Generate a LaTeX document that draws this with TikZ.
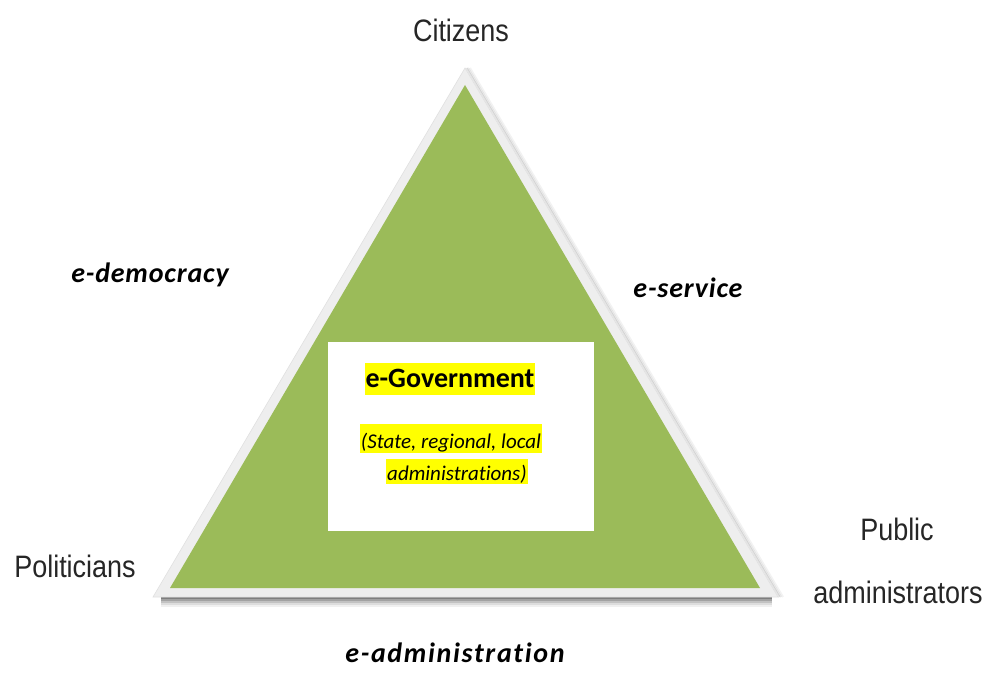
\documentclass[tikz,border=0pt]{standalone}
\usepackage{fontspec}
\usetikzlibrary{calc}
\setmainfont{Liberation Sans}
\newfontfamily\namefont[FakeStretch=0.87]{Liberation Sans}
\newfontfamily\labelfont[LetterSpace=3,Ligatures=NoCommon]{Carlito}
\newfontfamily\govfont[Ligatures=NoCommon]{Carlito}
\definecolor{leaf}{HTML}{9BBB59}
\definecolor{rim}{HTML}{EEEEEE}
\definecolor{hilite}{HTML}{FFFF00}
\tikzset{
  actor/.style={anchor=base, inner sep=0pt, font=\namefont\fontsize{31}{36}\selectfont, text=black!85},
  channel/.style={anchor=base, inner sep=0pt, font=\labelfont\bfseries\itshape\fontsize{28}{32}\selectfont},
  marked/.style={anchor=base, inner xsep=1pt, inner ysep=0pt, fill=hilite},
}
\begin{document}
\begin{tikzpicture}[x=1pt, y=-1pt]
\useasboundingbox (0,0) rectangle (989,674);
\fill[white] (0,0) rectangle (989,674);

% outer corners of the rim and inner corners of the green face
\coordinate (top)  at (465,68);
\coordinate (bl)   at (153,597);
\coordinate (br)   at (778,597);
\coordinate (itop) at (465,85);
\coordinate (ibl)  at (170,588);
\coordinate (ibr)  at (760,588);

% soft shadow under the base and along the right side
\foreach \d/\o in {10/0.06, 8/0.08, 6/0.12, 4/0.16, 2/0.22}{
  \fill[black, opacity=\o] ($(bl)+(8,-2)$) -- ($(br)+(-6,-2)$) -- ($(br)+(-6,\d)$) -- ($(bl)+(8,\d)$) -- cycle;
}
\foreach \d/\o in {5/0.05, 3/0.08, 1.5/0.1}{
  \draw[black, opacity=\o, line width=2pt] ($(top)+(\d,0)$) -- ($(br)+(\d,0)$);
}

% rim and green face
\fill[rim] (top) -- (br) -- (bl) -- cycle;
\draw[black!12, line width=0.6pt] (top) -- (br) -- (bl) -- cycle;
\fill[leaf] (itop) -- (ibr) -- (ibl) -- cycle;

% central panel
\node[fill=white, minimum width=266pt, minimum height=189pt, inner sep=0pt] (panel) at (461,436.5) {};

\node[marked, text height=24pt, text depth=8pt, font=\govfont\bfseries\fontsize{28}{32}\selectfont] (gov) at (450,387) {e-Government};
\node[marked, text height=24pt, text depth=5pt, font=\govfont\itshape\fontsize{21}{24}\selectfont] (scope1) at (451,448) {(State, regional, local};
\node[marked, text height=21pt, text depth=4pt, font=\govfont\itshape\fontsize{21}{24}\selectfont] (scope2) at (457,480) {administrations)};

% actors at the corners
\node[actor] (citizens) at (461,42) {Citizens};
\node[actor] (politicians) at (75,577) {Politicians};
\node[actor] (public) at (897,540) {Public};
\node[actor] (admins) at (898,603) {administrators};

% channels along the sides
\node[channel] (democracy) at (150,283) {e-democracy};
\node[channel] (service) at (688,298) {e-service};
\node[channel, font=\labelfont\bfseries\itshape\fontsize{28}{32}\selectfont\addfontfeature{LetterSpace=6}] (administration) at (455,662) {e-administration};
\end{tikzpicture}
\end{document}
